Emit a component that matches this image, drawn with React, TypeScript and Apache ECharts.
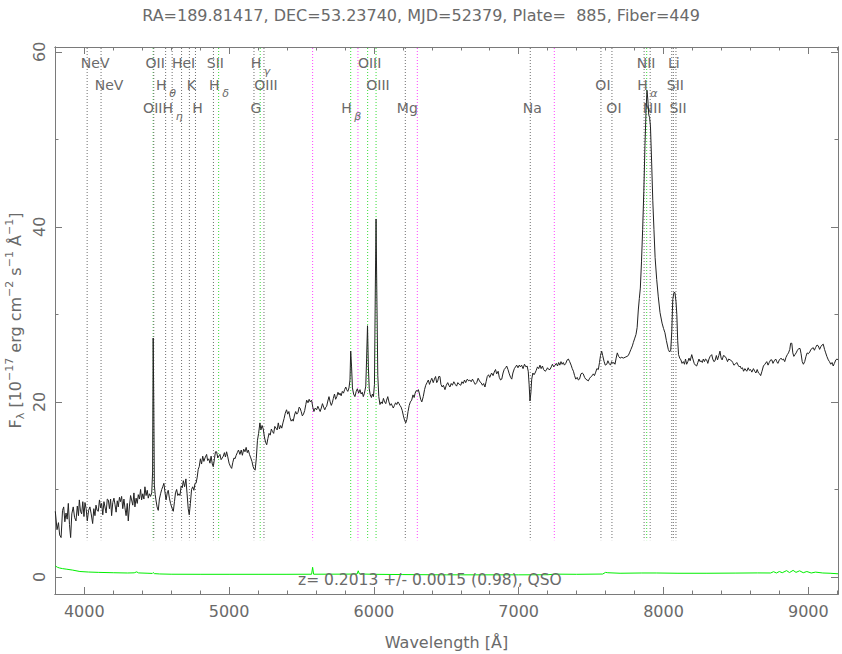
import React, { useEffect, useRef } from 'react';
import * as echarts from 'echarts';

// ---------------- data ----------------
const TITLE = 'RA=189.81417, DEC=53.23740, MJD=52379, Plate=  885, Fiber=449';
const Z_TEXT = 'z= 0.2013 +/- 0.0015 (0.98), QSO';
const X_NAME = 'Wavelength [Å]';

const X_MIN = 3798;
const X_MAX = 9205;
const Y_MIN = -1.95;
const Y_MAX = 60.55;
const LINE_BOTTOM = 4.2;

const xMajorTicks = [4000, 5000, 6000, 7000, 8000, 9000];
const xMinorTicks = [3800, 4000, 4200, 4400, 4600, 4800, 5000, 5200, 5400, 5600, 5800, 6000, 6200, 6400, 6600, 6800, 7000, 7200, 7400, 7600, 7800, 8000, 8200, 8400, 8600, 8800, 9000, 9200];
const yMajorTicks = [0, 20, 40, 60];
const yMinorTicks = [0, 10, 20, 30, 40, 50, 60];

// [wavelength, flux]
const spectrum: [number, number][] = [
  [3800, 7.5], [3812, 5.4], [3822, 6.2], [3830, 4.8], [3840, 4.5], [3850, 7.6], [3858, 8.0], [3866, 6.3], [3874, 7.3], [3882, 6.6],
  [3890, 8.4], [3898, 6.0], [3906, 4.5], [3914, 7.2], [3924, 8.0], [3933, 6.8], [3943, 6.4], [3952, 8.1], [3960, 7.0], [3966, 8.8],
  [3974, 7.5], [3982, 7.2], [3990, 8.6], [3998, 6.9], [4005, 8.5], [4013, 7.8], [4021, 6.4], [4030, 7.6], [4039, 8.0], [4048, 7.2],
  [4058, 6.1], [4066, 7.8], [4074, 7.0], [4081, 8.2], [4089, 7.6], [4097, 7.5], [4105, 8.8], [4113, 7.9], [4120, 8.4], [4128, 7.1],
  [4136, 8.6], [4143, 8.0], [4151, 7.3], [4159, 8.9], [4166, 8.8], [4174, 7.8], [4182, 8.9], [4189, 7.0], [4197, 8.5], [4205, 9.0],
  [4212, 8.3], [4220, 7.4], [4228, 8.7], [4235, 8.0], [4243, 9.1], [4250, 8.6], [4258, 9.2], [4266, 7.8], [4274, 8.9], [4281, 7.9],
  [4289, 7.0], [4297, 8.4], [4304, 6.4], [4312, 8.1], [4320, 9.3], [4327, 8.8], [4335, 8.2], [4343, 9.6], [4350, 8.0], [4358, 9.0],
  [4366, 8.4], [4373, 9.4], [4381, 8.9], [4389, 10.0], [4396, 8.8], [4404, 9.5], [4412, 8.9], [4419, 10.3], [4427, 9.3], [4435, 9.9],
  [4442, 9.0], [4450, 9.5], [4458, 9.2], [4466, 9.6], [4472, 12.0], [4476, 27.3], [4480, 20.0], [4484, 10.5], [4490, 9.4], [4495, 8.8],
  [4503, 8.0], [4511, 7.6], [4519, 8.9], [4527, 9.5], [4535, 10.0], [4542, 10.3], [4550, 10.7], [4558, 9.6], [4565, 8.8], [4573, 9.6],
  [4580, 9.9], [4588, 9.0], [4596, 8.4], [4605, 7.9], [4615, 7.5], [4623, 8.6], [4630, 9.6], [4638, 10.0], [4646, 9.3], [4654, 9.5],
  [4661, 9.3], [4669, 10.4], [4677, 10.2], [4684, 11.0], [4693, 10.3], [4702, 11.2], [4710, 9.5], [4718, 7.8], [4725, 7.1], [4733, 8.4],
  [4741, 10.0], [4749, 10.3], [4757, 9.9], [4765, 10.7], [4772, 10.7], [4780, 11.4], [4787, 12.3], [4794, 12.6], [4802, 13.5], [4810, 12.9],
  [4818, 13.8], [4826, 13.2], [4834, 13.6], [4845, 14.0], [4852, 13.3], [4860, 13.5], [4868, 13.0], [4876, 13.8], [4884, 12.9], [4891, 12.6],
  [4899, 13.5], [4906, 14.3], [4914, 14.3], [4922, 13.6], [4929, 13.8], [4937, 14.0], [4945, 13.4], [4953, 13.6], [4960, 13.8], [4968, 14.2],
  [4975, 13.7], [4983, 14.3], [4990, 13.8], [5000, 13.0], [5010, 12.6], [5018, 12.4], [5026, 13.1], [5034, 13.6], [5041, 13.5], [5049, 13.9],
  [5057, 14.2], [5065, 14.5], [5075, 14.0], [5084, 14.5], [5092, 13.9], [5101, 14.6], [5110, 14.3], [5118, 14.8], [5126, 14.2], [5133, 14.5],
  [5141, 14.0], [5150, 13.6], [5158, 13.2], [5166, 12.6], [5174, 12.3], [5180, 12.2], [5188, 13.5], [5196, 15.6], [5204, 16.4], [5213, 17.6],
  [5220, 16.8], [5228, 17.3], [5236, 16.9], [5244, 16.0], [5252, 15.4], [5260, 15.1], [5268, 15.8], [5276, 16.4], [5284, 16.2], [5292, 16.9],
  [5300, 16.6], [5308, 16.4], [5316, 17.2], [5324, 17.0], [5332, 16.8], [5340, 17.6], [5348, 16.9], [5356, 17.3], [5364, 17.0], [5372, 17.6],
  [5380, 18.1], [5388, 18.7], [5397, 19.1], [5405, 18.6], [5413, 18.9], [5421, 18.2], [5429, 17.8], [5437, 18.0], [5443, 17.8], [5452, 18.5],
  [5460, 18.9], [5468, 18.6], [5476, 18.8], [5484, 19.4], [5490, 19.3], [5498, 18.9], [5506, 18.4], [5514, 18.6], [5522, 19.0], [5530, 19.7],
  [5536, 20.2], [5545, 19.9], [5553, 20.3], [5561, 20.0], [5570, 20.2], [5578, 19.4], [5586, 18.9], [5595, 19.3], [5605, 19.1], [5613, 19.5],
  [5621, 19.2], [5629, 18.9], [5637, 19.3], [5645, 19.8], [5653, 19.4], [5661, 19.1], [5668, 19.4], [5674, 19.5], [5682, 20.1], [5690, 20.6],
  [5698, 20.0], [5706, 19.6], [5713, 19.9], [5720, 20.4], [5728, 20.9], [5736, 20.3], [5744, 20.6], [5752, 21.1], [5760, 20.8], [5766, 21.0],
  [5774, 20.7], [5782, 21.2], [5790, 21.0], [5798, 21.4], [5806, 21.7], [5812, 21.4], [5820, 21.2], [5828, 21.6], [5835, 22.5], [5840, 25.8],
  [5846, 24.0], [5852, 21.6], [5860, 20.9], [5869, 20.6], [5878, 21.2], [5886, 21.5], [5895, 21.0], [5904, 21.4], [5912, 20.9], [5920, 21.1],
  [5927, 20.6], [5935, 21.0], [5944, 21.8], [5950, 25.0], [5956, 28.7], [5962, 24.0], [5968, 21.5], [5975, 20.8], [5983, 20.5], [5990, 20.9],
  [5997, 20.6], [6004, 22.0], [6010, 33.0], [6015, 40.9], [6020, 33.0], [6027, 23.0], [6034, 20.6], [6042, 19.7], [6050, 20.0], [6058, 19.8],
  [6066, 20.4], [6074, 20.0], [6082, 19.8], [6088, 20.2], [6096, 20.6], [6104, 20.0], [6112, 19.6], [6120, 19.8], [6128, 19.5], [6134, 19.3],
  [6142, 19.6], [6150, 19.9], [6158, 19.7], [6166, 20.0], [6174, 19.8], [6180, 19.6], [6188, 19.4], [6196, 19.0], [6204, 18.4], [6212, 17.9],
  [6220, 17.6], [6228, 18.0], [6236, 18.9], [6244, 19.6], [6252, 20.0], [6261, 20.2], [6270, 20.8], [6278, 20.5], [6285, 21.0], [6293, 21.3],
  [6300, 21.2], [6307, 21.4], [6315, 20.9], [6323, 20.3], [6331, 20.0], [6341, 20.6], [6350, 21.4], [6358, 21.9], [6367, 22.2], [6376, 22.5],
  [6384, 22.0], [6392, 22.4], [6400, 22.7], [6410, 22.2], [6418, 22.6], [6426, 22.9], [6434, 22.2], [6441, 22.4], [6448, 22.9], [6456, 22.9],
  [6463, 22.0], [6472, 21.7], [6480, 21.9], [6491, 21.4], [6500, 21.9], [6510, 22.2], [6518, 21.9], [6525, 21.7], [6534, 22.1], [6542, 21.9],
  [6552, 22.3], [6562, 22.0], [6571, 21.8], [6580, 22.2], [6590, 22.0], [6600, 21.9], [6608, 22.3], [6617, 22.1], [6626, 22.5], [6634, 22.2],
  [6645, 22.6], [6655, 22.4], [6663, 22.5], [6672, 22.3], [6681, 22.6], [6690, 22.3], [6700, 22.0], [6710, 22.2], [6720, 22.7], [6732, 22.3],
  [6740, 22.2], [6750, 21.9], [6758, 22.1], [6767, 21.7], [6775, 22.3], [6783, 22.9], [6792, 23.1], [6800, 22.8], [6813, 23.3], [6823, 23.0],
  [6831, 23.4], [6840, 23.7], [6848, 23.2], [6858, 23.5], [6866, 22.8], [6875, 22.5], [6883, 22.6], [6892, 23.3], [6900, 23.7], [6910, 23.9],
  [6917, 24.1], [6926, 23.7], [6935, 23.2], [6944, 22.8], [6952, 22.6], [6960, 23.3], [6970, 23.8], [6978, 24.0], [6986, 24.2], [6995, 23.9],
  [7004, 24.2], [7012, 24.0], [7020, 24.2], [7030, 23.8], [7040, 24.3], [7050, 24.0], [7058, 24.1], [7066, 23.5], [7072, 22.0], [7078, 20.1],
  [7084, 21.0], [7090, 22.6], [7098, 23.3], [7106, 23.1], [7113, 23.3], [7121, 23.6], [7130, 24.0], [7138, 23.8], [7147, 24.2], [7155, 23.8],
  [7164, 24.1], [7172, 23.7], [7182, 23.5], [7190, 23.6], [7199, 23.9], [7208, 23.7], [7216, 23.7], [7225, 24.0], [7233, 24.3], [7242, 24.0],
  [7251, 24.2], [7260, 24.4], [7268, 24.1], [7276, 24.5], [7284, 24.2], [7292, 24.6], [7300, 24.3], [7308, 24.5], [7316, 24.2], [7325, 24.4],
  [7335, 24.8], [7343, 24.9], [7352, 24.6], [7362, 24.2], [7370, 23.8], [7378, 23.5], [7386, 23.0], [7394, 22.6], [7404, 22.8], [7412, 22.5],
  [7420, 22.6], [7430, 23.2], [7438, 23.3], [7446, 23.2], [7455, 22.8], [7463, 22.6], [7472, 22.5], [7481, 22.4], [7490, 22.7], [7500, 22.9],
  [7508, 23.0], [7515, 23.2], [7523, 23.0], [7532, 23.4], [7540, 23.8], [7550, 23.7], [7558, 24.5], [7565, 25.3], [7573, 25.8], [7580, 25.3],
  [7590, 24.6], [7598, 24.2], [7608, 24.3], [7616, 24.7], [7624, 24.4], [7634, 24.2], [7642, 24.6], [7650, 24.4], [7658, 24.5], [7665, 24.3],
  [7673, 25.0], [7681, 25.6], [7690, 25.2], [7700, 25.0], [7712, 25.1], [7722, 25.0], [7735, 25.1], [7748, 25.2], [7757, 25.3], [7765, 25.6],
  [7775, 26.0], [7785, 26.4], [7792, 26.8], [7800, 27.2], [7810, 27.7], [7818, 28.5], [7826, 30.5], [7833, 31.8], [7840, 33.0], [7848, 36.0],
  [7856, 39.7], [7864, 44.0], [7872, 49.3], [7880, 53.5], [7886, 55.6], [7892, 54.5], [7898, 52.8], [7904, 52.5], [7910, 51.5], [7918, 47.4],
  [7926, 43.0], [7934, 39.7], [7942, 36.5], [7953, 34.0], [7964, 32.0], [7976, 30.2], [7990, 29.0], [8000, 28.4], [8010, 27.9], [8020, 27.0],
  [8033, 26.0], [8042, 25.7], [8050, 25.9], [8057, 28.0], [8064, 31.7], [8072, 32.5], [8079, 32.5], [8086, 31.5], [8092, 30.0], [8098, 27.0],
  [8104, 25.4], [8112, 25.0], [8120, 24.8], [8128, 24.4], [8137, 24.6], [8145, 24.3], [8152, 24.9], [8160, 24.3], [8168, 24.6], [8176, 25.0],
  [8184, 24.7], [8195, 25.4], [8203, 24.9], [8212, 24.4], [8220, 24.2], [8229, 24.1], [8237, 24.5], [8245, 24.9], [8252, 24.6], [8260, 24.7],
  [8268, 24.5], [8275, 24.9], [8283, 24.6], [8290, 24.9], [8298, 24.8], [8306, 24.4], [8314, 24.9], [8322, 25.2], [8333, 25.4], [8340, 24.9],
  [8348, 24.6], [8356, 24.7], [8365, 25.3], [8373, 24.8], [8382, 25.3], [8390, 25.8], [8398, 25.0], [8405, 24.8], [8414, 25.3], [8425, 25.2],
  [8433, 25.0], [8442, 24.6], [8450, 24.9], [8460, 24.8], [8470, 24.7], [8478, 24.5], [8486, 24.2], [8495, 24.3], [8506, 24.5], [8515, 24.2],
  [8523, 24.0], [8529, 24.1], [8537, 23.8], [8545, 23.9], [8553, 23.5], [8562, 23.8], [8575, 23.5], [8585, 23.9], [8593, 23.6], [8601, 23.7],
  [8610, 23.4], [8621, 23.8], [8630, 23.5], [8638, 23.3], [8647, 23.7], [8656, 23.3], [8664, 23.2], [8671, 23.0], [8680, 23.5], [8690, 24.1],
  [8700, 24.3], [8713, 24.6], [8722, 24.2], [8730, 24.5], [8740, 24.8], [8748, 24.8], [8756, 24.4], [8765, 24.7], [8775, 24.9], [8782, 24.6],
  [8790, 24.4], [8800, 24.8], [8812, 25.0], [8820, 24.8], [8828, 24.9], [8837, 24.6], [8846, 25.1], [8855, 25.4], [8863, 25.6], [8872, 26.0],
  [8878, 26.7], [8886, 26.7], [8893, 25.6], [8900, 25.2], [8908, 25.4], [8916, 25.6], [8925, 25.9], [8934, 26.1], [8943, 26.1], [8950, 25.5],
  [8958, 24.6], [8966, 24.3], [8975, 24.6], [8984, 25.2], [8992, 25.6], [9000, 25.5], [9010, 25.7], [9018, 26.0], [9026, 26.1], [9034, 26.2],
  [9042, 25.9], [9050, 26.2], [9060, 26.5], [9069, 26.4], [9078, 26.0], [9086, 26.3], [9095, 26.5], [9103, 26.6], [9112, 26.0], [9120, 25.6],
  [9128, 25.2], [9138, 24.8], [9146, 24.6], [9155, 24.3], [9164, 24.5], [9172, 24.1], [9180, 24.4], [9190, 24.8], [9198, 24.9], [9206, 24.8],
];

// [wavelength, error]
const errorSpectrum: [number, number][] = [
  [3800, 1.26], [3815, 1.1], [3830, 1.02], [3850, 0.95], [3880, 0.88], [3920, 0.78], [3970, 0.62], [4030, 0.56], [4100, 0.52], [4200, 0.48],
  [4300, 0.45], [4345, 0.47], [4362, 0.58], [4375, 0.46], [4440, 0.42], [4470, 0.4], [4476, 0.5], [4484, 0.38], [4520, 0.34], [4600, 0.31],
  [4800, 0.3], [5000, 0.3], [5200, 0.3], [5400, 0.3], [5570, 0.31], [5577, 1.1], [5584, 0.31], [5800, 0.32], [5884, 0.33], [5892, 0.7],
  [5900, 0.34], [6000, 0.3], [6200, 0.27], [6500, 0.24], [7000, 0.24], [7200, 0.25], [7250, 0.32], [7400, 0.3], [7580, 0.33], [7600, 0.52],
  [7615, 0.48], [7700, 0.42], [7850, 0.45], [7950, 0.45], [8100, 0.42], [8300, 0.42], [8500, 0.44], [8650, 0.46], [8740, 0.45], [8760, 0.6],
  [8780, 0.45], [8800, 0.62], [8820, 0.48], [8850, 0.72], [8870, 0.5], [8895, 0.75], [8915, 0.52], [8940, 0.7], [8965, 0.48], [8990, 0.62],
  [9020, 0.45], [9050, 0.55], [9100, 0.45], [9150, 0.42], [9206, 0.36],
];

// spectral line markers: [name, greek subscript, observed wavelength, kind]
type Kind = 'abs' | 'em' | 'sky';
const lineMarkers: [string, string, number, Kind][] = [
  ['NeV', '', 4020, 'abs'],
  ['NeV', '', 4116, 'abs'],
  ['OII', '', 4476, 'em'],
  ['OII', '', 4480, 'abs'],
  ['H', 'θ', 4562, 'abs'],
  ['H', 'η', 4607, 'abs'],
  ['HeI', '', 4672, 'abs'],
  ['K', '', 4726, 'abs'],
  ['H', '', 4768, 'abs'],
  ['SII', '', 4892, 'abs'],
  ['H', 'δ', 4928, 'em'],
  ['G', '', 5172, 'abs'],
  ['H', 'γ', 5215, 'em'],
  ['OIII', '', 5241, 'abs'],
  ['', '', 5577, 'sky'],
  ['H', 'β', 5840, 'em'],
  ['', '', 5890, 'sky'],
  ['OIII', '', 5957, 'em'],
  ['OIII', '', 6015, 'em'],
  ['Mg', '', 6217, 'abs'],
  ['', '', 6300, 'sky'],
  ['Na', '', 7080, 'abs'],
  ['', '', 7246, 'sky'],
  ['OI', '', 7568, 'abs'],
  ['OI', '', 7644, 'abs'],
  ['NII', '', 7866, 'abs'],
  ['H', 'α', 7884, 'em'],
  ['NII', '', 7908, 'abs'],
  ['Li', '', 8057, 'abs'],
  ['SII', '', 8068, 'abs'],
  ['SII', '', 8086, 'abs'],
];

// ---------------- layout / style ----------------
const LABEL_ROWS = [0, 1, 0, 2, 1, 2, 0, 1, 2, 0, 1, 2, 0, 1, -1, 2, -1, 0, 1, 2, -1, 2, -1, 1, 2, 0, 1, 2, 0, 1, 2];
const ROW_OFFSETS = [16, 38, 61];
const LABEL_DX = 2;
const LABEL_EXTRA_DX: Record<number, number> = { 0: 6, 1: 6, 3: -3 };

const FONT = '"DejaVu Sans", sans-serif';
const TEXT_COLOR = '#6a6a6a';
const AXIS_COLOR = '#7a7a7a';
const KIND_COLORS: Record<Kind, string> = { abs: '#6f6f6f', em: '#38e038', sky: '#ff44ff' };

const GRID = { left: 55, top: 47, width: 783, height: 547, containLabel: false, outerBoundsMode: 'none' };

function xAxisDef(position: 'bottom' | 'top', ticks: number[], len: number, labels: boolean, withName: boolean) {
  return {
    type: 'value',
    min: X_MIN,
    max: X_MAX,
    position,
    gridIndex: 0,
    axisLine: { show: true, onZero: false, lineStyle: { color: AXIS_COLOR, width: 1 } },
    axisTick: { show: true, inside: true, length: len, customValues: ticks, lineStyle: { color: AXIS_COLOR, width: 1 } },
    axisLabel: labels
      ? { show: true, customValues: ticks, margin: 9, color: TEXT_COLOR, fontSize: 16, fontFamily: FONT, formatter: (v: number) => String(v) }
      : { show: false },
    splitLine: { show: false },
    name: withName ? X_NAME : '',
    nameLocation: 'middle',
    nameGap: 40,
    nameTextStyle: { color: TEXT_COLOR, fontSize: 16, fontFamily: FONT },
  };
}

const Y_NAME = '{n|F}{sub|λ}{n| [10}{sup|−17}{n| erg cm}{sup|−2}{n| s}{sup|−1}{n| Å}{sup|−1}{n|]}';

function yAxisDef(position: 'left' | 'right', ticks: number[], len: number, withName: boolean) {
  return {
    type: 'value',
    min: Y_MIN,
    max: Y_MAX,
    position,
    gridIndex: 0,
    axisLine: { show: true, onZero: false, lineStyle: { color: AXIS_COLOR, width: 1 } },
    axisTick: { show: true, inside: true, length: len, customValues: ticks, lineStyle: { color: AXIS_COLOR, width: 1 } },
    axisLabel: { show: false },
    splitLine: { show: false },
    name: withName ? Y_NAME : '',
    nameLocation: 'middle',
    nameRotate: 90,
    nameGap: 29,
    nameTextStyle: {
      color: TEXT_COLOR,
      fontFamily: FONT,
      rich: {
        n: { fontSize: 16, color: TEXT_COLOR, fontFamily: FONT, verticalAlign: 'middle', lineHeight: 22 },
        sub: { fontSize: 11, color: TEXT_COLOR, fontFamily: FONT, verticalAlign: 'bottom', lineHeight: 22 },
        sup: { fontSize: 11, color: TEXT_COLOR, fontFamily: FONT, verticalAlign: 'top', lineHeight: 22 },
      },
    },
  };
}

export default function App() {
  const ref = useRef<HTMLDivElement>(null);

  useEffect(() => {
    document.body.style.margin = '0';
    if (!ref.current) return;
    const chart = echarts.init(ref.current, null, { renderer: 'svg' });

    const option: any = {
      animation: false,
      backgroundColor: '#ffffff',
      title: {
        text: TITLE,
        left: 'center',
        top: 2,
        textStyle: { color: TEXT_COLOR, fontSize: 16, fontWeight: 'normal', fontFamily: FONT },
      },
      grid: GRID,
      xAxis: [
        xAxisDef('bottom', xMajorTicks, 7, true, true),
        xAxisDef('bottom', xMinorTicks, 3.5, false, false),
        xAxisDef('top', xMajorTicks, 7, false, false),
        xAxisDef('top', xMinorTicks, 3.5, false, false),
      ],
      yAxis: [
        yAxisDef('left', yMajorTicks, 7, true),
        yAxisDef('left', yMinorTicks, 3.5, false),
        yAxisDef('right', yMajorTicks, 7, false),
        yAxisDef('right', yMinorTicks, 3.5, false),
      ],
      graphic: [
        {
          type: 'text',
          left: 298,
          top: 572,
          z: 10,
          style: { text: Z_TEXT, fill: TEXT_COLOR, font: `15.5px ${FONT}` },
        },
      ],
      series: [
        {
          type: 'custom',
          name: 'yTickLabels',
          xAxisIndex: 0,
          yAxisIndex: 0,
          z: 5,
          silent: true,
          clip: false,
          data: yMajorTicks.map((v) => [X_MIN, v]),
          encode: { x: 0, y: 1 },
          renderItem: (params: any, api: any) => {
            const p = api.coord([api.value(0), api.value(1)]);
            return {
              type: 'text',
              x: p[0] - 16,
              y: p[1],
              rotation: Math.PI / 2,
              style: { text: String(api.value(1)), fill: TEXT_COLOR, font: `16px ${FONT}`, textAlign: 'center', align: 'center', textVerticalAlign: 'middle', verticalAlign: 'middle' },
            };
          },
        },
        {
          type: 'custom',
          name: 'lines',
          xAxisIndex: 0,
          yAxisIndex: 0,
          z: 1,
          silent: true,
          data: lineMarkers.map((m, i) => [m[2], 0, i]),
          encode: { x: 0, y: 1 },
          renderItem: (params: any, api: any) => {
            const idx = api.value(2) as number;
            const m = lineMarkers[idx];
            const wave = m[2];
            const top = api.coord([wave, Y_MAX]);
            const bot = api.coord([wave, LINE_BOTTOM]);
            const children: any[] = [
              {
                type: 'line',
                shape: { x1: top[0], y1: top[1] + 1, x2: bot[0], y2: bot[1] },
                style: { stroke: KIND_COLORS[m[3]], lineWidth: 1, lineDash: [1, 2] },
              },
            ];
            const row = LABEL_ROWS[idx];
            if (row >= 0) {
              const cy = params.coordSys.y + ROW_OFFSETS[row];
              if (m[1]) {
                children.push({
                  type: 'text',
                  x: top[0] + 1,
                  y: cy,
                  style: { text: m[0], fill: TEXT_COLOR, font: `14px ${FONT}`, textAlign: 'right', align: 'right', textVerticalAlign: 'middle', verticalAlign: 'middle' },
                });
                children.push({
                  type: 'text',
                  x: top[0] + 3.5,
                  y: cy + 8,
                  style: { text: m[1], fill: TEXT_COLOR, font: `italic 11px ${FONT}`, textAlign: 'left', align: 'left', textVerticalAlign: 'middle', verticalAlign: 'middle' },
                });
              } else {
                const cx = top[0] + LABEL_DX + (LABEL_EXTRA_DX[idx] || 0);
                children.push({
                  type: 'text',
                  x: cx,
                  y: cy,
                  style: { text: m[0], fill: TEXT_COLOR, font: `14px ${FONT}`, textAlign: 'center', align: 'center', textVerticalAlign: 'middle', verticalAlign: 'middle' },
                });
              }
            }
            return { type: 'group', children };
          },
        },
        {
          type: 'line',
          name: 'error',
          xAxisIndex: 0,
          yAxisIndex: 0,
          z: 2,
          data: errorSpectrum,
          showSymbol: false,
          symbol: 'none',
          silent: true,
          lineStyle: { color: '#00ee00', width: 1 },
        },
        {
          type: 'line',
          name: 'flux',
          xAxisIndex: 0,
          yAxisIndex: 0,
          z: 3,
          data: spectrum,
          showSymbol: false,
          symbol: 'none',
          silent: true,
          lineStyle: { color: '#222222', width: 1 },
        },
      ],
    };

    chart.setOption(option);
    return () => chart.dispose();
  }, []);

  return <div ref={ref} style={{ width: 842, height: 654 }} />;
}
